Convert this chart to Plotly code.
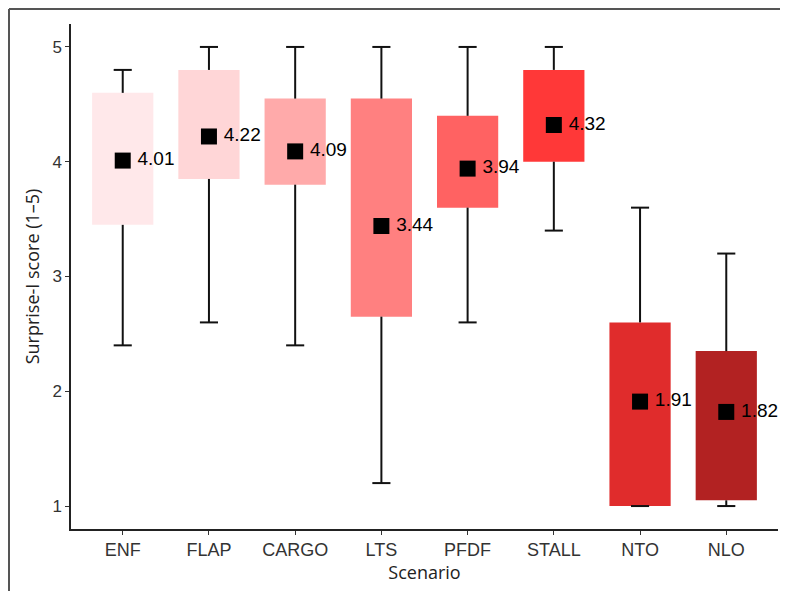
import plotly.graph_objects as go

categories = ["ENF", "FLAP", "CARGO", "LTS", "PFDF", "STALL", "NTO", "NLO"]
q1 = [3.45, 3.85, 3.80, 2.65, 3.60, 4.00, 1.00, 1.05]
q3 = [4.60, 4.80, 4.55, 4.55, 4.40, 4.80, 2.60, 2.35]
lower = [2.40, 2.60, 2.40, 1.20, 2.60, 3.40, 1.00, 1.00]
upper = [4.80, 5.00, 5.00, 5.00, 5.00, 5.00, 3.60, 3.20]
means = [4.01, 4.22, 4.09, 3.44, 3.94, 4.32, 1.91, 1.82]
colors = ["#FFE8EA", "#FFD6D7", "#FFAAAA", "#FF8080", "#FF6262", "#FF3838", "#E02C2C", "#B22222"]
y_ticks = [1, 2, 3, 4, 5]

pos = list(range(len(categories)))
cap = 0.105

fig = go.Figure()

# boxes (IQR)
fig.add_trace(go.Bar(
    x=pos, y=[b - a for a, b in zip(q1, q3)], base=q1, width=0.71,
    marker=dict(color=colors, line=dict(width=0)), showlegend=False, hoverinfo="skip"))

# whiskers
wx, wy = [], []
for i in pos:
    wx += [i, i, None, i, i, None]
    wy += [q3[i], upper[i], None, q1[i], lower[i], None]
    wx += [i - cap, i + cap, None, i - cap, i + cap, None]
    wy += [upper[i], upper[i], None, lower[i], lower[i], None]
fig.add_trace(go.Scatter(x=wx, y=wy, mode="lines", line=dict(color="#111111", width=2),
                         showlegend=False, hoverinfo="skip"))

# means
fig.add_trace(go.Scatter(
    x=pos, y=means, mode="markers+text",
    marker=dict(symbol="square", size=16, color="black"),
    text=[f"\u2009{m:.2f}" for m in means], textposition="middle right",
    textfont=dict(family="Liberation Sans, Arial", size=19, color="black"),
    showlegend=False))

fig.update_layout(
    width=788, height=591,
    margin=dict(l=63, r=18, t=16, b=70),
    paper_bgcolor="white", plot_bgcolor="white",
    xaxis=dict(
        range=[-0.6, 7.6], tickmode="array", tickvals=pos, ticktext=categories,
        showline=True, linecolor="#222222", linewidth=1.5, showgrid=False, zeroline=False,
        ticks="outside", ticklen=4, tickcolor="#333333", automargin=False,
        tickfont=dict(family="Liberation Sans, Arial", size=18, color="#333333"),
        title=dict(text="Scenario", font=dict(family="Open Sans", size=18, color="#222222"), standoff=4),
    ),
    yaxis=dict(
        range=[0.8, 5.2], tickmode="array", tickvals=y_ticks,
        showline=True, linecolor="#222222", linewidth=1.5, showgrid=False, zeroline=False,
        ticks="outside", ticklen=4, tickcolor="#333333", automargin=False,
        tickfont=dict(family="Liberation Sans, Arial", size=17, color="#333333"),
        title=dict(text="Surprise-I score (1–5)", font=dict(family="Open Sans", size=18, color="#222222"), standoff=8),
    ),
    shapes=[
        dict(type="line", xref="paper", yref="paper", x0=-0.0877, x1=-0.0877, y0=-0.2, y1=1.0297,
             line=dict(color="#555555", width=2)),
        dict(type="line", xref="paper", yref="paper", x0=-0.0877, x1=1.05, y0=1.0297, y1=1.0297,
             line=dict(color="#555555", width=2)),
    ],
)

fig.write_html("out.html")
